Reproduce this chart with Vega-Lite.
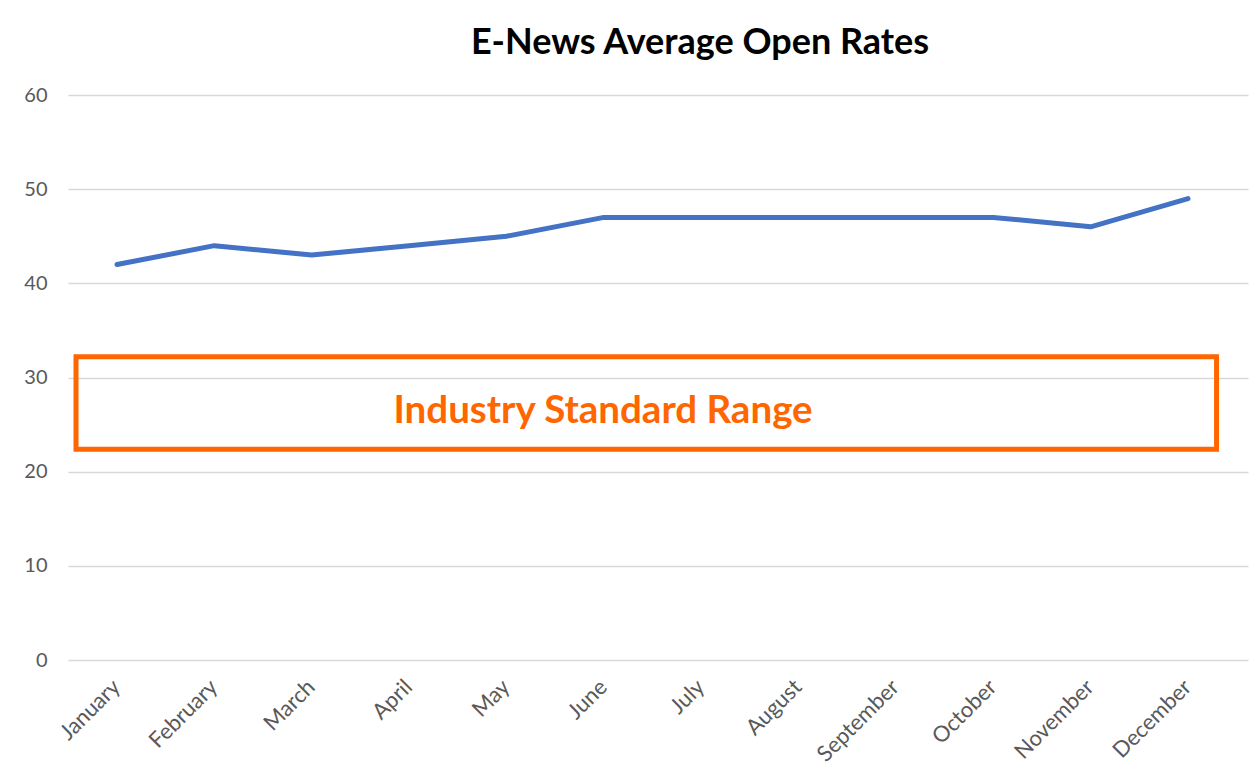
{
  "$schema": "https://vega.github.io/schema/vega-lite/v6.json",
  "autosize": {"type": "none"},
  "width": 1180,
  "height": 565,
  "padding": {"left": 68, "top": 95, "right": 1, "bottom": 124},
  "background": "white",
  "config": {"view": {"stroke": null}, "font": "Lato"},
  "title": {
    "text": "E-News Average Open Rates",
    "font": "Lato",
    "fontSize": 36,
    "fontWeight": "bold",
    "color": "#000000",
    "anchor": "middle",
    "frame": "group",
    "baseline": "alphabetic",
    "offset": -5,
    "dx": 42
  },
  "layer": [
    {
      "data": {
        "values": [
          {"month": "January", "m": 1, "rate": 42},
          {"month": "February", "m": 2, "rate": 44},
          {"month": "March", "m": 3, "rate": 43},
          {"month": "April", "m": 4, "rate": 44},
          {"month": "May", "m": 5, "rate": 45},
          {"month": "June", "m": 6, "rate": 47},
          {"month": "July", "m": 7, "rate": 47},
          {"month": "August", "m": 8, "rate": 47},
          {"month": "September", "m": 9, "rate": 47},
          {"month": "October", "m": 10, "rate": 47},
          {"month": "November", "m": 11, "rate": 46},
          {"month": "December", "m": 12, "rate": 49}
        ]
      },
      "mark": {"type": "line", "color": "#4472C4", "strokeWidth": 5, "strokeCap": "round", "strokeJoin": "round"},
      "encoding": {
        "x": {
          "field": "m",
          "type": "quantitative",
          "scale": {"domain": [0.4967, 12.616], "nice": false, "zero": false},
          "axis": {
            "title": null,
            "values": [1, 2, 3, 4, 5, 6, 7, 8, 9, 10, 11, 12],
            "labelExpr": "['January','February','March','April','May','June','July','August','September','October','November','December'][datum.value - 1]",
            "labelAngle": -45,
            "labelAlign": "right",
            "labelBaseline": "top",
            "labelPadding": 16,
            "labelOffset": -8,
            "labelFont": "Lato",
            "labelFontSize": 22,
            "labelColor": "#595959",
            "labelOverlap": false,
            "labelBound": false,
            "labelFlush": false,
            "domain": false,
            "ticks": false,
            "grid": false
          }
        },
        "y": {
          "field": "rate",
          "type": "quantitative",
          "scale": {"domain": [0, 60], "nice": false},
          "axis": {
            "title": null,
            "values": [0, 10, 20, 30, 40, 50, 60],
            "labelFont": "Lato",
            "labelFontSize": 20,
            "labelColor": "#595959",
            "labelPadding": 21,
            "domain": false,
            "ticks": false,
            "grid": true,
            "gridColor": "#D9D9D9",
            "gridWidth": 1.5
          }
        }
      }
    },
    {
      "data": {"values": [{"x1": 0.579, "x2": 12.293, "y1": 22.37, "y2": 32.2}]},
      "mark": {"type": "rect", "filled": false, "stroke": "#FF6600", "strokeWidth": 5},
      "encoding": {
        "x": {"field": "x1", "type": "quantitative"},
        "x2": {"field": "x2"},
        "y": {"field": "y1", "type": "quantitative"},
        "y2": {"field": "y2"}
      }
    },
    {
      "data": {"values": [{"x": 5.992, "y": 25.2, "label": "Industry Standard Range"}]},
      "mark": {"type": "text", "font": "Lato", "fontSize": 38.5, "fontWeight": "bold", "color": "#FF6600", "align": "center", "baseline": "alphabetic"},
      "encoding": {
        "x": {"field": "x", "type": "quantitative"},
        "y": {"field": "y", "type": "quantitative"},
        "text": {"field": "label"}
      }
    }
  ]
}
